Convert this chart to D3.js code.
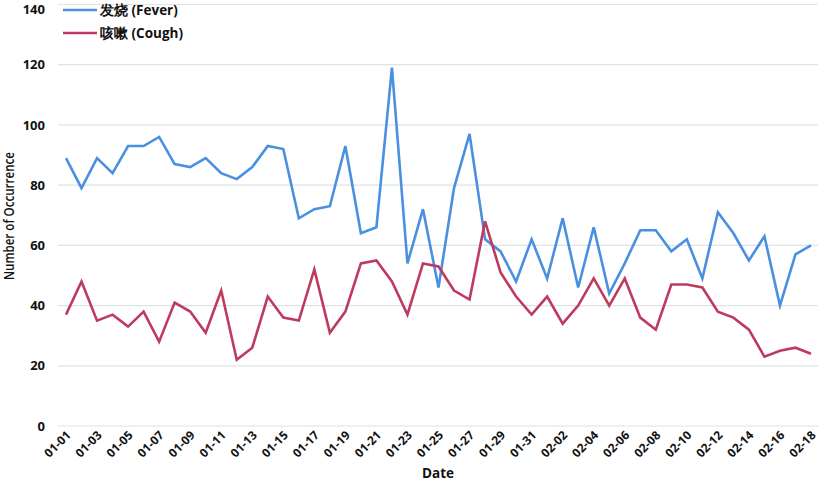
<!DOCTYPE html>
<html><head><meta charset="utf-8">
<script src="https://cdn.jsdelivr.net/npm/d3@7"></script>
<style>body{margin:0;background:#fff}svg{display:block}text{font-family:"Open Sans","Noto Sans",sans-serif}</style>
</head><body>
<svg id="c" width="820" height="483"></svg>
<script>
const dates = ["01-01","01-02","01-03","01-04","01-05","01-06","01-07","01-08","01-09","01-10","01-11","01-12","01-13","01-14","01-15","01-16","01-17","01-18","01-19","01-20","01-21","01-22","01-23","01-24","01-25","01-26","01-27","01-28","01-29","01-30","01-31","02-01","02-02","02-03","02-04","02-05","02-06","02-07","02-08","02-09","02-10","02-11","02-12","02-13","02-14","02-15","02-16","02-17","02-18"];
const fever = [89,79,89,84,93,93,96,87,86,89,84,82,86,93,92,69,72,73,93,64,66,119,54,72,46,79,97,62,58,48,62,49,69,46,66,44,54,65,65,58,62,49,71,64,55,63,40,57,60];
const cough = [37,48,35,37,33,38,28,41,38,31,45,22,26,43,36,35,52,31,38,54,55,48,37,54,53,45,42,68,51,43,37,43,34,40,49,40,49,36,32,47,47,46,38,36,32,23,25,26,24];
const yTicks = [0,20,40,60,80,100,120,140];
const seriesNames = ["发烧 (Fever)","咳嗽 (Cough)"];
const colors = ["#4A8FE0","#BE3A5E"];

const svg = d3.select("#c");
const x = d3.scalePoint().domain(dates).range([66, 811]);
const y = d3.scaleLinear().domain([0,140]).range([426, 4.5]);

// gridlines
svg.append("g").selectAll("line").data(yTicks).join("line")
  .attr("x1",58).attr("x2",818).attr("y1",d=>y(d)).attr("y2",d=>y(d))
  .attr("stroke","#dde4e4").attr("stroke-width",1.2);

// y axis labels
const ya = svg.append("g").attr("transform","translate(45,0)")
  .call(d3.axisLeft(y).tickValues(yTicks).tickSize(0).tickPadding(0));
ya.select(".domain").remove();
ya.selectAll("text").attr("font-family","Open Sans, sans-serif").attr("font-size",13).attr("font-weight",700).attr("fill","#111")
  .attr("dy", d => d === 140 ? "0.66em" : "0.32em");

// x axis labels
const xa = svg.append("g").attr("transform","translate(0,426)")
  .call(d3.axisBottom(x).tickValues(dates.filter((d,i)=>i%2===0)).tickSize(0).tickPadding(0));
xa.select(".domain").remove();
xa.selectAll("text").attr("font-family","Open Sans, sans-serif").attr("font-size",12).attr("font-weight",700).attr("fill","#111")
  .attr("text-anchor","end").attr("dy",0).attr("transform","translate(5,10) rotate(-45)");

// axis titles
svg.append("text").attr("x",438).attr("y",478).attr("text-anchor","middle")
  .attr("font-size",13.5).attr("font-weight",700).attr("fill","#111").text("Date");
svg.append("text").attr("transform","translate(14,216) rotate(-90)").attr("text-anchor","middle")
  .attr("font-size",13.5).attr("font-weight",600).attr("fill","#111").attr("textLength",128).attr("lengthAdjust","spacingAndGlyphs").text("Number of Occurrence");

// lines
const line = d3.line().x((d,i)=>x(dates[i])).y(d=>y(d));
[fever,cough].forEach((s,k)=>{
  svg.append("path").datum(s).attr("d",line).attr("fill","none")
    .attr("stroke",colors[k]).attr("stroke-width",2.6).attr("stroke-linejoin","miter");
});

// legend
seriesNames.forEach((n,k)=>{
  const yy = 10 + k*23;
  svg.append("line").attr("x1",63).attr("x2",97).attr("y1",yy).attr("y2",yy)
    .attr("stroke",colors[k]).attr("stroke-width",2.6);
  svg.append("text").attr("x",100).attr("y",yy).attr("dy","0.35em")
    .attr("font-family","'Noto Sans CJK SC','Open Sans',sans-serif")
    .attr("font-size",13.5).attr("font-weight",700).attr("fill","#111").text(n);
});
</script>
</body></html>
